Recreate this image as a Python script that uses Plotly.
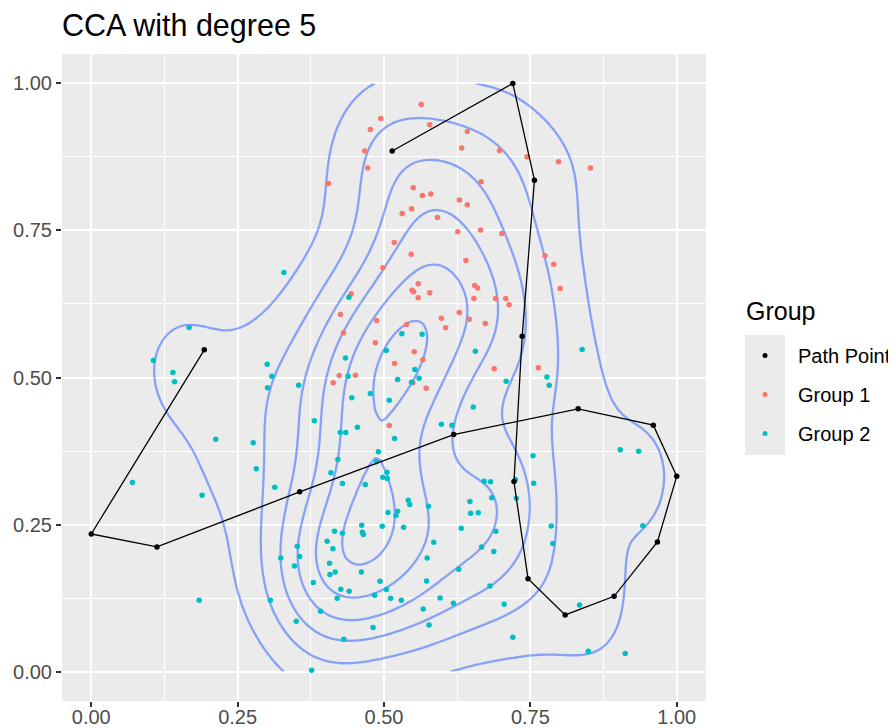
import numpy as np
import plotly.graph_objects as go

# ---------------- data ----------------
group1_x = [0.5635, 0.4944, 0.4767, 0.5782, 0.6423, 0.4671, 0.6327, 0.4723, 0.4053, 0.666,
            0.550, 0.5656, 0.580, 0.6287, 0.6423, 0.547, 0.531, 0.5913, 0.6259, 0.665,
            0.5175, 0.5465, 0.640, 0.498,
            0.6973, 0.7443, 0.798, 0.8526, 0.7012, 0.775, 0.790,
            0.5584, 0.548, 0.5505, 0.5782, 0.5584, 0.4439, 0.6548, 0.6599, 0.6536, 0.4257,
            0.4875, 0.6287, 0.598, 0.6457, 0.673, 0.5385, 0.6054, 0.4308, 0.4852, 0.5516,
            0.5663, 0.518, 0.4235, 0.4512, 0.5493, 0.4133, 0.572, 0.509,
            0.801, 0.6905, 0.708, 0.7137, 0.6882, 0.7636]
group1_y = [0.9643, 0.9405, 0.9218, 0.9297, 0.9184, 0.8849, 0.890, 0.856, 0.830, 0.833,
            0.8226, 0.8095, 0.8118, 0.8016, 0.7937, 0.7869, 0.779, 0.772, 0.748, 0.7506,
            0.7296, 0.7097, 0.699, 0.6865,
            0.886, 0.8753, 0.8668, 0.856, 0.745, 0.707, 0.6927,
            0.6593, 0.6485, 0.6457, 0.644, 0.6355, 0.6423, 0.6565, 0.652, 0.6344, 0.6071,
            0.597, 0.6105, 0.6009, 0.5992, 0.5918, 0.590, 0.5845, 0.576, 0.559, 0.5437,
            0.530, 0.5238, 0.5034, 0.504, 0.491, 0.491, 0.4818, 0.4184,
            0.6514, 0.6344, 0.6344, 0.6236, 0.5148, 0.5165]

group2_x = [0.1672, 0.106, 0.1395, 0.1423, 0.3005, 0.3084, 0.301, 0.2126, 0.2767, 0.2818,
            0.0703, 0.3135, 0.1893, 0.1842, 0.306,
            0.329, 0.440, 0.5306, 0.5652, 0.504, 0.656, 0.4342, 0.5527, 0.4388, 0.5233,
            0.560, 0.547, 0.3543, 0.445, 0.4767, 0.509, 0.6525, 0.381, 0.598, 0.6162,
            0.4252, 0.4348, 0.4546, 0.518, 0.4904, 0.4212, 0.487, 0.4093, 0.505, 0.498,
            0.5056, 0.429, 0.468, 0.671, 0.682,
            0.5414, 0.544, 0.5068, 0.5233, 0.5204, 0.576, 0.6468, 0.648, 0.661, 0.684,
            0.4155, 0.429, 0.462, 0.463, 0.4648, 0.497, 0.5335, 0.632, 0.403, 0.352,
            0.4127, 0.585, 0.6667, 0.3237, 0.356, 0.347, 0.407, 0.5737, 0.4076, 0.4167,
            0.4614, 0.6276, 0.3793, 0.5726, 0.4932, 0.4263, 0.4405, 0.504, 0.420, 0.4841,
            0.5113, 0.5295, 0.5958, 0.6185, 0.3917, 0.5669, 0.681, 0.350, 0.4813, 0.577,
            0.4314, 0.3764,
            0.726, 0.7557, 0.691, 0.7857, 0.7886, 0.6876, 0.7052, 0.834, 0.720, 0.849,
            0.912, 0.942,
            0.8384, 0.7086, 0.7783, 0.7823, 0.9036, 0.935, 0.7545, 0.7245]
group2_y = [0.585, 0.529, 0.5085, 0.4926, 0.5227, 0.5023, 0.4825, 0.395, 0.389, 0.345,
            0.3214, 0.3134, 0.300, 0.1213, 0.1213,
            0.6786, 0.6366, 0.5743, 0.5737, 0.546, 0.5448, 0.533, 0.5136, 0.5023, 0.4966,
            0.4989, 0.492, 0.487, 0.4654, 0.4728, 0.4614, 0.450, 0.4263, 0.4206, 0.419,
            0.4065, 0.4065, 0.4155, 0.3963, 0.3736, 0.3605, 0.3566, 0.3379, 0.339, 0.3305,
            0.3282, 0.3197, 0.318, 0.3237, 0.3226,
            0.2914, 0.284, 0.2704, 0.2726, 0.2653, 0.2812, 0.2891, 0.2693, 0.270, 0.2954,
            0.2386, 0.2352, 0.2488, 0.2369, 0.233, 0.2471, 0.2454, 0.2437, 0.2216, 0.2131,
            0.2087, 0.220, 0.212, 0.1933, 0.1956, 0.1797, 0.1842, 0.1933, 0.165, 0.1695,
            0.1695, 0.174, 0.1514, 0.1542, 0.1536, 0.140, 0.1366, 0.1395, 0.1247, 0.1298,
            0.1247, 0.1213, 0.1253, 0.1162, 0.1026, 0.1066, 0.1457, 0.0856, 0.0748, 0.0793,
            0.055, 0.0023,
            0.2948, 0.320, 0.2386, 0.2477, 0.2177, 0.204, 0.1145, 0.1134, 0.0584, 0.0345,
            0.0306, 0.248,
            0.5476, 0.4937, 0.501, 0.487, 0.377, 0.3747, 0.3668, 0.3265]

path_x = [0.514, 0.72, 0.757, 0.736, 0.722, 0.746, 0.8095, 0.893, 0.967, 1.0,
          0.960, 0.8316, 0.619, 0.356, 0.1122, 0.0, 0.193]
path_y = [0.885, 1.0, 0.8355, 0.570, 0.323, 0.158, 0.0964, 0.128, 0.2205, 0.332,
          0.419, 0.4468, 0.403, 0.3056, 0.212, 0.234, 0.547]

tick_vals = [0.0, 0.25, 0.5, 0.75, 1.0]
tick_text = ["0.00", "0.25", "0.50", "0.75", "1.00"]

# ---------------- 2D kernel density (MASS::kde2d style) ----------------
allx = np.array(group1_x + group2_x + path_x)
ally = np.array(group1_y + group2_y + path_y)
ADJUST = 1.06


def bw_nrd(v):
    q1, q3 = np.percentile(v, [25, 75])
    h = (q3 - q1) / 1.34
    return 4 * 1.06 * min(np.std(v, ddof=1), h) * len(v) ** (-0.2)


gx = np.linspace(0, 1, 100)
gy = np.linspace(0, 1, 100)
hx = ADJUST * bw_nrd(allx) / 4
hy = ADJUST * bw_nrd(ally) / 4
phi = lambda u: np.exp(-0.5 * u ** 2) / np.sqrt(2 * np.pi)
ax_ = phi((gx[:, None] - allx[None, :]) / hx)
ay_ = phi((gy[:, None] - ally[None, :]) / hy)
z = (ay_ @ ax_.T) / (len(allx) * hx * hy)


def r_pretty(lo, hi, n=10):
    dx = hi - lo
    cell = dx / n
    U = 10 ** np.floor(np.log10(cell))
    unit = U
    h, h5 = 1.5, 0.5 + 1.5 * 1.5
    if 2 * U - cell < h * (cell - unit):
        unit = 2 * U
        if 5 * U - cell < h5 * (cell - unit):
            unit = 5 * U
            if 10 * U - cell < h * (cell - unit):
                unit = 10 * U
    return unit


step = r_pretty(float(z.min()), float(z.max()))

# ---------------- layout geometry (page body adds an 8px offset) ----------------
W, H = 888, 720
ML, MR, MT, MB = 54, 190, 46, 27
PW, PH = W - ML - MR, H - MT - MB


def px_x(p):  # screenshot pixel -> paper x
    return (p - 8 - ML) / PW


def px_y(p):  # screenshot pixel -> paper y
    return (H - MB - (p - 8)) / PH


# ---------------- figure ----------------
fig = go.Figure()

fig.add_trace(go.Scatter(x=group1_x, y=group1_y, mode="markers", showlegend=False,
                         marker=dict(color="#F8766D", size=5.5)))
fig.add_trace(go.Scatter(x=group2_x, y=group2_y, mode="markers", showlegend=False,
                         marker=dict(color="#00BFC4", size=5.5)))

fig.add_trace(go.Contour(x=gx, y=gy, z=z, showscale=False, showlegend=False,
                         hoverinfo="skip",
                         contours=dict(start=step, end=float(z.max()), size=step,
                                       coloring="none"),
                         line=dict(color="rgba(51,102,255,0.55)", width=2.3, smoothing=1)))

fig.add_trace(go.Scatter(x=path_x, y=path_y, mode="lines", showlegend=False,
                         line=dict(color="black", width=1.3), hoverinfo="skip"))
fig.add_trace(go.Scatter(x=path_x, y=path_y, mode="markers", showlegend=False,
                         marker=dict(color="black", size=5.5)))

# legend-only entries (small ggplot-like keys)
for nm, col, grp in [("Path Point", "black", "a"), ("Group 1", "#F8766D", "b"),
                     ("Group 2", "#00BFC4", "c")]:
    fig.add_trace(go.Scatter(x=[None], y=[None], mode="markers", name=nm,
                             legendgroup=grp, showlegend=True,
                             marker=dict(color=col, size=5)))

axis_common = dict(range=[-0.05, 1.05], tickvals=tick_vals, ticktext=tick_text,
                   showgrid=True, gridcolor="white", gridwidth=2.2,
                   zeroline=False, showline=False, automargin=False,
                   ticks="outside", ticklen=5, tickwidth=1.5, tickcolor="#333333",
                   tickfont=dict(family="Liberation Sans, Arial", size=20, color="#4D4D4D"),
                   minor=dict(dtick=0.125, tick0=0, showgrid=True, gridcolor="white",
                              gridwidth=1.1, ticks=""))

fig.update_xaxes(**axis_common)
fig.update_xaxes(ticklabelstandoff=-7)
fig.update_yaxes(**axis_common)

# legend key background (ggplot style grey keys)
fig.add_shape(type="rect", xref="paper", yref="paper",
              x0=px_x(745), x1=px_x(785), y0=px_y(455), y1=px_y(335),
              fillcolor="#EBEBEB", line=dict(width=0), layer="below")

fig.add_annotation(text="Group", xref="paper", yref="paper",
                   x=px_x(744), y=px_y(311), xanchor="left", yanchor="middle",
                   showarrow=False, font=dict(size=25, color="black"))

fig.update_layout(
    width=W, height=H,
    margin=dict(l=ML, r=MR, t=MT, b=MB, autoexpand=False),
    paper_bgcolor="white", plot_bgcolor="#EBEBEB",
    font=dict(family="Liberation Sans, Arial", color="black"),
    title=dict(text="CCA with degree 5", x=54 / W, xanchor="left", xref="container",
               y=1 - 17 / H, yanchor="middle", yref="container",
               font=dict(size=30.5, color="black")),
    legend=dict(font=dict(size=20, color="black"),
                x=px_x(732), xanchor="left", y=px_y(336), yanchor="top",
                bgcolor="rgba(0,0,0,0)", tracegroupgap=10, itemwidth=56,
                itemsizing="trace"),
    showlegend=True,
)

fig.write_html("out.html")
